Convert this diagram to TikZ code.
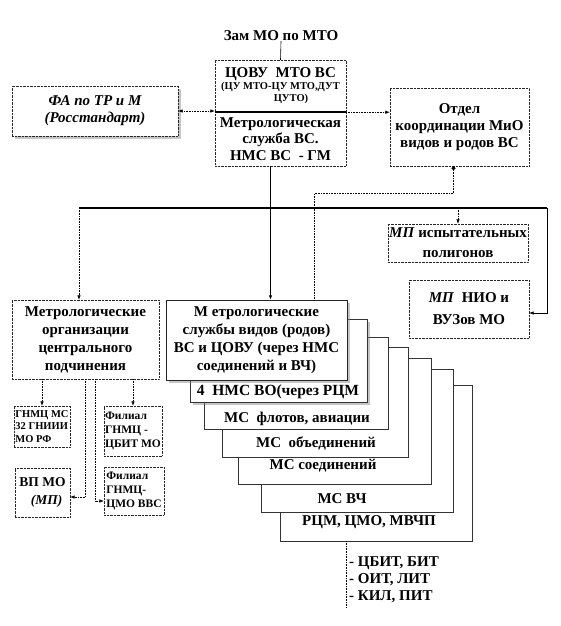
\documentclass[tikz,border=0pt]{standalone}
\usepackage{fontspec}
\setmainfont{Liberation Serif}
\usetikzlibrary{arrows.meta,shadows}

\begin{document}
\begin{tikzpicture}[x=1pt,y=-1pt,
  >={Latex[length=4.5pt,width=3.5pt]},
  box/.style={draw=black!85, densely dotted, fill=white, inner sep=0pt, align=center,
    font=\fontsize{15}{17}\selectfont\bfseries},
  stackbox/.style={draw=black!80, fill=white, inner sep=0pt},
  shadowed/.style={drop shadow={shadow xshift=2.5pt,shadow yshift=-2.5pt,opacity=0.45}},
  lbl/.style={inner sep=0pt, font=\fontsize{15}{17}\selectfont\bfseries},
  smallfont/.style={font=\fontsize{11.5}{14}\selectfont\bfseries},
  dotline/.style={densely dotted, semithick},
  heavy/.style={line width=1.6pt}]

\useasboundingbox (0,0) rectangle (561,626);

% top row
\node[lbl] (zam) at (281,36) {Зам МО по МТО};
\node[box, minimum width=131pt, minimum height=52pt] (tsovu) at (280.5,86)
  {ЦОВУ\ \ МТО ВС\\[-5pt]{\fontsize{10.5}{12}\selectfont (ЦУ МТО-ЦУ МТО,ДУТ}\\[-5pt]{\fontsize{10.5}{12}\selectfont\hspace*{2em}ЦУТО)}};
\node[box, minimum width=131pt, minimum height=54pt] (msvs) at (280.5,139)
  {Метрологическая\\[-0.5pt]служба ВС.\\[-0.5pt]НМС ВС\ \ - ГМ};
\node[box, shadowed, minimum width=166pt, minimum height=50pt,
  font=\fontsize{15}{17}\selectfont\bfseries\itshape] (fa) at (95,111) {ФА по ТР и М\\(Росстандарт)};
\node[box, minimum width=139pt, minimum height=78pt] (otdel) at (459.5,127)
  {Отдел\\координации МиО\\видов и родов ВС};

% middle row
\node[box, minimum width=140pt, minimum height=38pt, font=\fontsize{15}{20}\selectfont\bfseries] (mpisp) at (458,243)
  {\textit{МП} испытательных\\полигонов};
\node[box, minimum width=120pt, minimum height=58pt, font=\fontsize{15}{22}\selectfont\bfseries] (mpnio) at (469,309)
  {\textit{МП}\ \ НИО и\\ВУЗов МО};
\node[box, minimum width=147pt, minimum height=79pt, font=\fontsize{15}{18}\selectfont\bfseries] (morg) at (85.5,339.5)
  {Метрологические\\организации\\центрального\\подчинения};

% stacked services
\node[stackbox, minimum width=192pt, minimum height=156pt] (c6) at (376,463) {};
\node[lbl] (t6) at (369,522) {РЦМ, ЦМО, МВЧП};
\node[stackbox, minimum width=192pt, minimum height=143pt] (c5) at (357,440.5) {};
\node[lbl] (t5) at (342,499) {МС ВЧ};
\node[stackbox, minimum width=193pt, minimum height=126pt] (c4) at (334.5,421) {};
\node[lbl] (t4) at (323,466) {МС соединений};
\node[stackbox, minimum width=186pt, minimum height=110pt] (c3) at (315,402) {};
\node[lbl] (t3) at (316,443) {МС\ \ объединений};
\node[stackbox, minimum width=184pt, minimum height=92pt] (c2) at (296,383) {};
\node[lbl] (t2) at (297,419) {МС\ \ флотов, авиации};
\node[stackbox, shadowed, minimum width=177pt, minimum height=83pt] (c1) at (278.5,360.5) {};
\node[lbl, font=\fontsize{15.5}{17}\selectfont\bfseries] (t1) at (278,392) {4\ \ НМС ВО(через РЦМ};
\node[box, solid, shadowed, minimum width=181pt, minimum height=80pt, font=\fontsize{15}{18}\selectfont\bfseries] (msvid) at (256.5,340)
  {М етрологические\\службы видов (родов)\\ВС и ЦОВУ (через НМС\\соединений и ВЧ)};

\node[lbl, align=left, anchor=west] (lst) at (349,580) {- ЦБИТ, БИТ\\- ОИТ, ЛИТ\\- КИЛ, ПИТ};
\coordinate (lend) at (346,607);

% central subordination
\node[box, align=left, minimum width=56pt, minimum height=41pt, font=\fontsize{10.5}{12.5}\selectfont\bfseries] (gnmc) at (42,426.5)
  {ГНМЦ МС\\32 ГНИИИ\\МО РФ};
\node[box, align=left, minimum width=58pt, minimum height=50pt, smallfont] (fil1) at (133,431)
  {Филиал\\ГНМЦ -\\ЦБИТ МО};
\node[box, minimum width=55pt, minimum height=49pt, font=\fontsize{13.5}{18}\selectfont\bfseries] (vpmo) at (42.5,492.5)
  {ВП МО\\\hspace*{0.6em}\textit{(МП)}};
\node[box, align=left, minimum width=60pt, minimum height=48pt, smallfont] (fil2) at (134,491)
  {Филиал\\ГНМЦ-\\ЦМО ВВС};

% connectors
\draw[semithick] (zam.south) -- (tsovu.north);
\draw[heavy] (tsovu.south west) -- (tsovu.south east);
\draw[dotline,<->] (fa.east) -- (fa.east -| tsovu.west);
\draw[dotline,->] (tsovu.south east) -- (tsovu.south east -| otdel.west);
\draw[heavy,->] ([xshift=-10pt]msvs.south) -- ([xshift=-10pt]msvs.south |- msvid.north);

\coordinate (busL) at (79,208);
\coordinate (busR) at (547,208);
\draw[heavy] (busL) -- (busR);
\draw[dotline,->] (busL) -- (busL |- morg.north);
\draw[dotline,->] (busL -| mpisp.north) -- (mpisp.north);
\draw[semithick,->] (busR) |- ([yshift=-4pt]mpnio.east);
\draw[dotline,{Circle[length=4pt]}-] ([xshift=-6pt]otdel.south) -- ++(0,27) -| ([xshift=58pt]msvid.north);

\draw[dotline,->] (morg.south -| gnmc.north) -- (gnmc.north);
\draw[dotline,->] (morg.south -| fil1.north) -- (fil1.north);
\draw[dotline,->] (morg.south) |- ([yshift=-4.5pt]vpmo.east);
\draw[dotline,->] ([xshift=10pt]morg.south) |- ([yshift=-10pt]fil2.west);
\draw[dotline] (c6.south -| lend) -- (lend);

\end{tikzpicture}
\end{document}
